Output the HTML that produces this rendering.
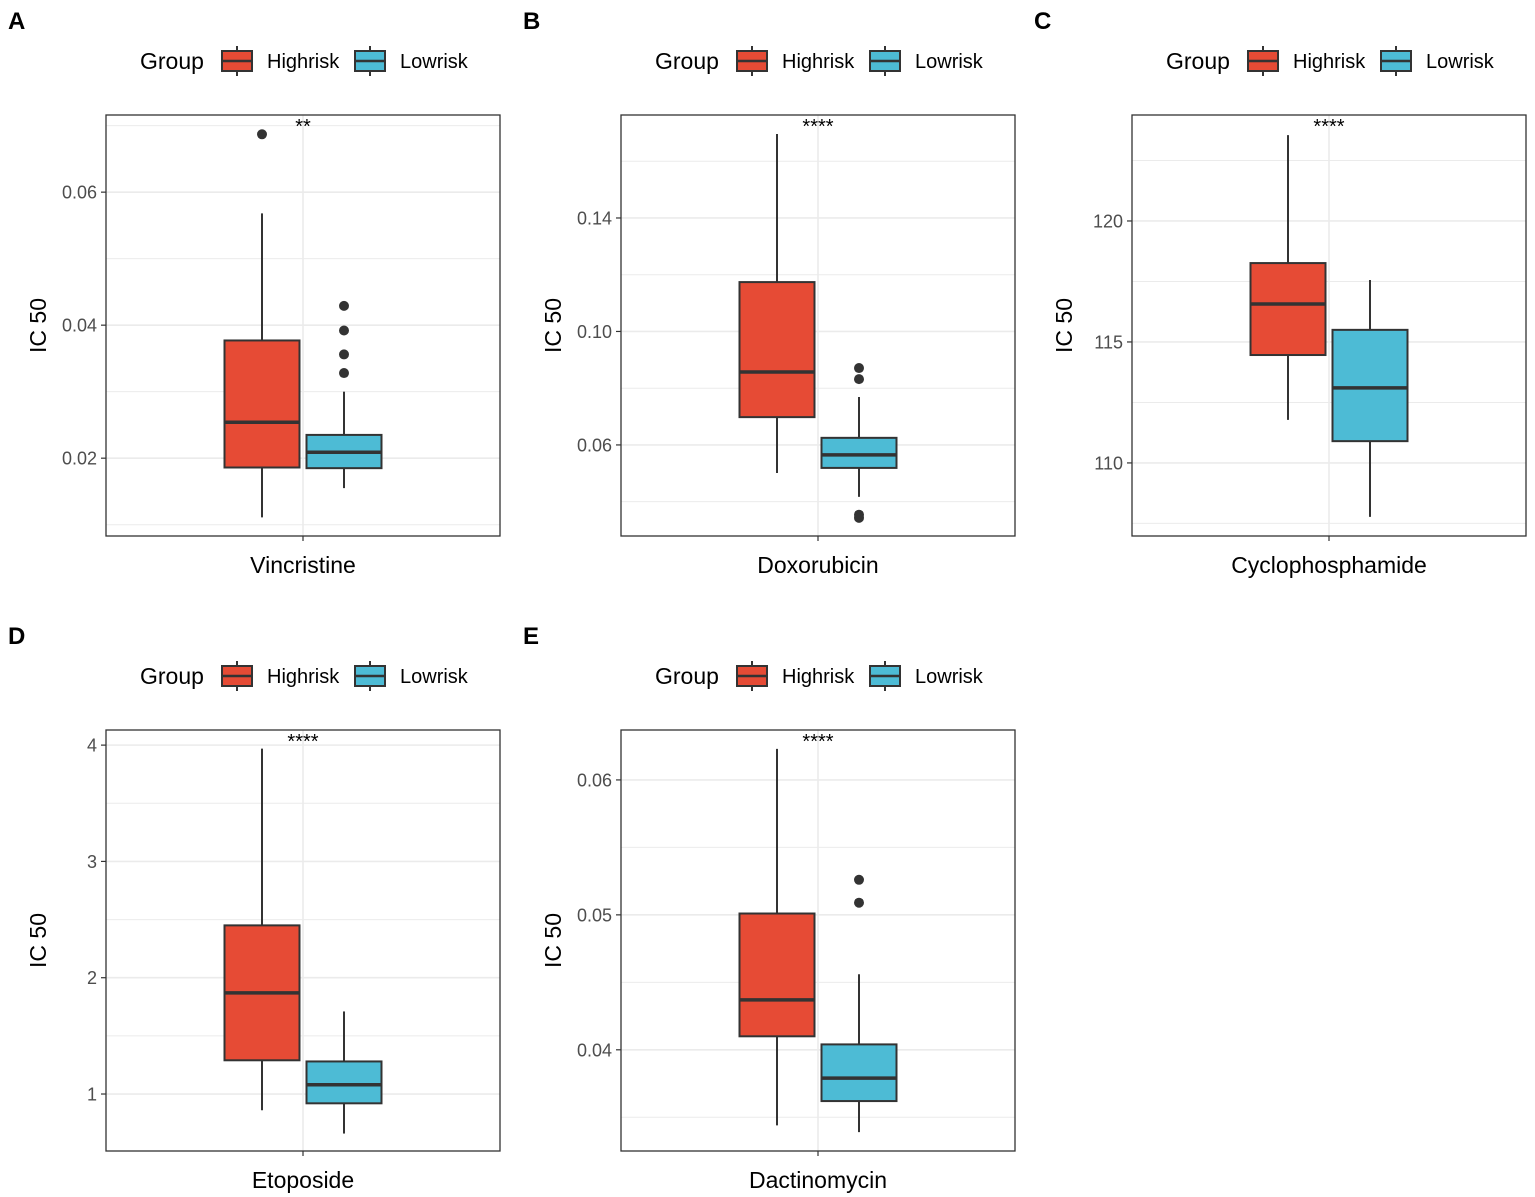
<!DOCTYPE html>
<html><head><meta charset="utf-8"><style>
body{margin:0;background:#fff;}
svg{display:block;font-family:"Liberation Sans",Arial,sans-serif;}
</style></head><body>
<svg id="chart" width="1535" height="1197" viewBox="0 0 1535 1197"></svg>
<script>
// Data
const drugNames = ["Vincristine","Doxorubicin","Cyclophosphamide","Etoposide","Dactinomycin"];
const panelLetters = ["A","B","C","D","E"];
const sigLabels = ["**","****","****","****","****"];
// [low, q1, median, q3, high]
const highStats = [
  [0.0111,0.0186,0.0254,0.0377,0.0568],
  [0.0501,0.0698,0.0857,0.1174,0.1696],
  [111.78,114.46,116.57,118.26,123.55],
  [0.86,1.29,1.87,2.45,3.97],
  [0.0344,0.0410,0.0437,0.0501,0.0623]
];
const lowStats = [
  [0.0155,0.0185,0.0209,0.0235,0.0300],
  [0.0417,0.0519,0.0565,0.0625,0.0769],
  [107.77,110.9,113.1,115.5,117.56],
  [0.66,0.92,1.08,1.28,1.71],
  [0.0339,0.0362,0.0379,0.0404,0.0456]
];
const highOutliers = [[0.0687],[],[],[],[]];
const lowOutliers = [[0.0429,0.0392,0.0356,0.0328],[0.0871,0.0832,0.0354,0.0343],[],[],[0.0526,0.0509]];
const yDomains = [[0.0083,0.0716],[0.0279,0.1763],[106.98,124.38],[0.51,4.13],[0.0325,0.0637]];
const yTicks = [[0.02,0.04,0.06],[0.06,0.10,0.14],[110,115,120],[1,2,3,4],[0.04,0.05,0.06]];
const yTickLabels = [["0.02","0.04","0.06"],["0.06","0.10","0.14"],["110","115","120"],["1","2","3","4"],["0.04","0.05","0.06"]];

const svg = document.getElementById('chart');
const NS = "http://www.w3.org/2000/svg";
function mk(tag, attrs, parent, text){
  const e = document.createElementNS(NS, tag);
  for (const k in attrs) e.setAttribute(k, attrs[k]);
  if (text !== undefined) e.textContent = text;
  parent.appendChild(e);
  return e;
}
const RED = "#E64B35", BLUE = "#4DBBD5", DARK = "#333333";
const offsets = [[0,0],[515,0],[1026,0],[0,615],[515,615]];

for (let p = 0; p < 5; p++){
  const [ox, oy] = offsets[p];
  const g = mk('g', {}, svg);
  
  
  const L = 106+ox, R = 500+ox, T = 115+oy, B = 536+oy, CX = 303+ox;
  const [d0, d1] = yDomains[p];
  const y = v => B - (v - d0) / (d1 - d0) * (B - T);

  let t = mk('text', {x:8+ox, y:29+oy, 'font-size':24, 'font-weight':'bold', fill:'#000'}, g, panelLetters[p]);
  
  

  // legend
  const lg = mk('g', {}, g);
  
  
  mk('text', {x:140+ox, y:69+oy, 'font-size':23, fill:'#000'}, lg, 'Group');
  [[222, RED, 'Highrisk', 267],[355, BLUE, 'Lowrisk', 400]].forEach(([kx, col, lab, tx]) => {
    const e = mk('g', {}, lg);
    
    
    mk('line', {x1:kx+15+ox, x2:kx+15+ox, y1:46+oy, y2:76+oy, stroke:DARK, 'stroke-width':2}, e);
    mk('rect', {x:kx+ox, y:51+oy, width:30, height:20, fill:col, stroke:DARK, 'stroke-width':2}, e);
    mk('line', {x1:kx+ox, x2:kx+30+ox, y1:61+oy, y2:61+oy, stroke:DARK, 'stroke-width':2.5}, e);
    mk('text', {x:tx+ox, y:68+oy, 'font-size':20, fill:'#000'}, e, lab);
  });

  // grid
  mk('rect', {x:L, y:T, width:R-L, height:B-T, fill:'#fff'}, g);
  const ticks = yTicks[p];
  const step = ticks[1] - ticks[0];
  for (let v = ticks[0] - step/2; v < d1; v += step/2){
    if (v <= d0) continue;
    mk('line', {x1:L, x2:R, y1:y(v), y2:y(v), stroke:'#ebebeb', 'stroke-width':(Math.abs(((v-ticks[0])/step) % 1) < 1e-6 ? 1.6 : 1)}, g);
  }
  mk('line', {x1:CX, x2:CX, y1:T, y2:B, stroke:'#ebebeb', 'stroke-width':1.6}, g);

  // y ticks
  ticks.forEach((v, i) => {
    mk('line', {x1:L-5, x2:L, y1:y(v), y2:y(v), stroke:DARK, 'stroke-width':1.2}, g);
    const tl = mk('text', {x:L-9, y:y(v)+6.5, 'font-size':18, 'text-anchor':'end', fill:'#4d4d4d'}, g, yTickLabels[p][i]);
    
    
  });
  const yl = mk('text', {x:0, y:0, 'font-size':23, 'text-anchor':'middle', fill:'#000', transform:`translate(${46+ox},${(T+B)/2}) rotate(-90)`}, g, 'IC 50');
  
  
  mk('line', {x1:CX, x2:CX, y1:B, y2:B+5, stroke:DARK, 'stroke-width':1.2}, g);
  const xl = mk('text', {x:CX, y:B+37, 'font-size':23, 'text-anchor':'middle', fill:'#000'}, g, drugNames[p]);
  
  

  // boxes
  [[highStats[p], highOutliers[p], RED, CX-41, 'high'],[lowStats[p], lowOutliers[p], BLUE, CX+41, 'low']].forEach(([s, outs, col, bx, nm]) => {
    const bg = mk('g', {}, g);
    
    
    mk('line', {x1:bx, x2:bx, y1:y(s[0]), y2:y(s[4]), stroke:DARK, 'stroke-width':2}, bg);
    mk('rect', {x:bx-37.5, y:y(s[3]), width:75, height:y(s[1])-y(s[3]), fill:col, stroke:DARK, 'stroke-width':2}, bg);
    mk('line', {x1:bx-37.5, x2:bx+37.5, y1:y(s[2]), y2:y(s[2]), stroke:DARK, 'stroke-width':3.5}, bg);
    outs.forEach(o => {
      const c = mk('circle', {cx:bx, cy:y(o), r:5, fill:DARK}, bg);
      
      
    });
  });

  mk('rect', {x:L, y:T, width:R-L, height:B-T, fill:'none', stroke:DARK, 'stroke-width':1.3}, g);
  const sg = mk('text', {x:CX, y:T+18, 'font-size':20, 'text-anchor':'middle', fill:'#000'}, g, sigLabels[p]);
  
  
}
</script>
</body></html>
